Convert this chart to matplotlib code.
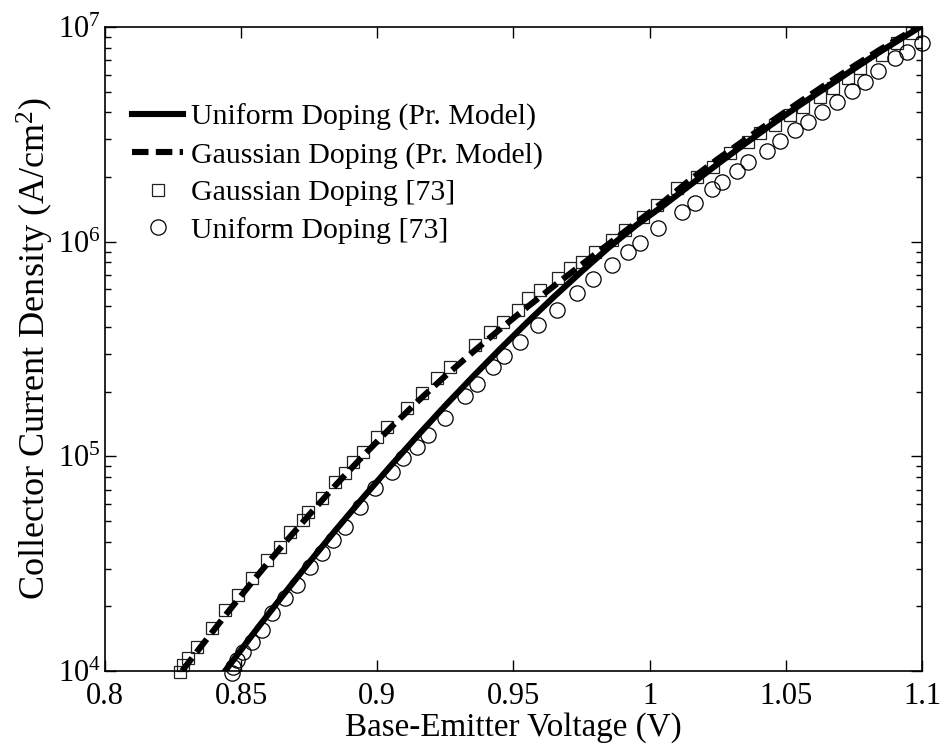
import matplotlib
matplotlib.use("Agg")
import matplotlib.pyplot as plt
import numpy as np
from matplotlib.ticker import LogLocator, NullFormatter, FixedLocator

plt.rcParams['font.family'] = ['Liberation Serif', 'DejaVu Serif']
plt.rcParams['mathtext.fontset'] = 'custom'
plt.rcParams['mathtext.rm'] = 'Liberation Serif'
plt.rcParams['mathtext.it'] = 'Liberation Serif:italic'

# Uniform doping, present model (solid line): V, log10(J)
v_uni_model = [0.8441, 0.855, 0.865, 0.875, 0.885, 0.895, 0.905, 0.915, 0.925, 0.935,
               0.945, 0.955, 0.965, 0.975, 0.985, 0.995, 1.005, 1.015, 1.025, 1.035,
               1.045, 1.055, 1.065, 1.075, 1.085, 1.0993]
logj_uni_model = [4.000, 4.183, 4.347, 4.506, 4.661, 4.811, 4.957, 5.099, 5.237, 5.370,
                  5.499, 5.624, 5.745, 5.861, 5.973, 6.076, 6.168, 6.265, 6.362, 6.456,
                  6.548, 6.635, 6.720, 6.805, 6.888, 7.000]

# Gaussian doping, present model (dashed line)
v_gau_model = [0.8283, 0.835, 0.845, 0.855, 0.865, 0.875, 0.885, 0.895, 0.905, 0.915,
               0.925, 0.935, 0.945, 0.955, 0.965, 0.975, 0.985, 0.995, 1.005, 1.015,
               1.025, 1.035, 1.045, 1.055, 1.065, 1.075, 1.085, 1.0985]
logj_gau_model = [4.000, 4.110, 4.272, 4.430, 4.582, 4.728, 4.870, 5.005, 5.135, 5.258,
                  5.375, 5.485, 5.592, 5.695, 5.795, 5.893, 5.990, 6.088, 6.185, 6.290,
                  6.385, 6.475, 6.563, 6.650, 6.735, 6.818, 6.898, 7.000]

# Gaussian doping, reference [73] (squares)
v_gau_ref = [0.8275, 0.8288, 0.8306, 0.8337, 0.8392, 0.8441, 0.8490, 0.8539, 0.8594, 0.8643,
             0.8679, 0.8728, 0.8747, 0.8796, 0.8845, 0.8881, 0.8912, 0.8949, 0.8998, 0.9035,
             0.9108, 0.9163, 0.9218, 0.9267, 0.9359, 0.9414, 0.9463, 0.9518, 0.9555, 0.9597,
             0.9665, 0.9708, 0.9751, 0.9799, 0.9861, 0.9910, 0.9977, 1.0026, 1.0100, 1.0173,
             1.0234, 1.0295, 1.0362, 1.0405, 1.0461, 1.0516, 1.0564, 1.0626, 1.0675, 1.0730,
             1.0773, 1.0852, 1.0907, 1.0963]
logj_gau_ref = [3.997, 4.028, 4.060, 4.114, 4.199, 4.285, 4.354, 4.432, 4.517, 4.579,
                4.649, 4.704, 4.742, 4.805, 4.882, 4.921, 4.975, 5.022, 5.092, 5.138,
                5.224, 5.294, 5.364, 5.418, 5.519, 5.581, 5.627, 5.682, 5.736, 5.775,
                5.830, 5.876, 5.907, 5.953, 6.008, 6.054, 6.116, 6.171, 6.249, 6.303,
                6.349, 6.412, 6.466, 6.505, 6.544, 6.590, 6.629, 6.675, 6.714, 6.761,
                6.808, 6.870, 6.924, 6.971]

# Uniform doping, reference [73] (circles)
v_uni_ref = [0.8465, 0.8471, 0.8484, 0.8508, 0.8539, 0.8575, 0.8612, 0.8661, 0.8704, 0.8753,
             0.8796, 0.8838, 0.8881, 0.8936, 0.8992, 0.9053, 0.9095, 0.9145, 0.9187, 0.9249,
             0.9322, 0.9365, 0.9426, 0.9465, 0.9524, 0.9591, 0.9659, 0.9732, 0.9793, 0.9861,
             0.9922, 0.9965, 1.0032, 1.0118, 1.0167, 1.0228, 1.0265, 1.0320, 1.0362, 1.0430,
             1.0479, 1.0534, 1.0583, 1.0632, 1.0687, 1.0742, 1.0791, 1.0840, 1.0901, 1.0944,
             1.0999]
logj_uni_ref = [3.993, 4.021, 4.052, 4.090, 4.137, 4.191, 4.269, 4.339, 4.401, 4.486,
                4.549, 4.611, 4.673, 4.766, 4.851, 4.929, 4.991, 5.045, 5.100, 5.177,
                5.281, 5.337, 5.414, 5.468, 5.534, 5.612, 5.682, 5.761, 5.825, 5.891,
                5.953, 5.995, 6.062, 6.140, 6.179, 6.244, 6.279, 6.331, 6.370, 6.424,
                6.469, 6.520, 6.559, 6.605, 6.652, 6.703, 6.745, 6.796, 6.854, 6.885,
                6.927]

xticks = [0.8, 0.85, 0.9, 0.95, 1.0, 1.05, 1.1]
xticklabels = ['0.8', '0.85', '0.9', '0.95', '1', '1.05', '1.1']

fig = plt.figure(figsize=(9.43, 7.51), dpi=100)
ax = fig.add_axes([0.1113, 0.1065, 0.8664, 0.8575])

def tj(l):
    return 10 ** np.asarray(l)

ax.plot(v_uni_model, tj(logj_uni_model), '-', color='black', lw=4.4,
        label='Uniform Doping (Pr. Model)', zorder=3)
ax.plot(v_gau_model, tj(logj_gau_model), '--', color='black', lw=4.4,
        dashes=(2.7, 1.2), label='Gaussian Doping (Pr. Model)', zorder=3)
ax.plot(v_gau_ref, tj(logj_gau_ref), 's', mfc='none', mec='#222222', mew=0.9, ms=9,
        label='Gaussian Doping [73]', clip_on=False, zorder=2)
ax.plot(v_uni_ref, tj(logj_uni_ref), 'o', mfc='none', mec='black', mew=0.9, ms=11,
        label='Uniform Doping [73]', clip_on=False, zorder=2)

ax.set_yscale('log')
ax.set_xlim(0.8, 1.1)
ax.set_ylim(1e4, 1e7)
ax.xaxis.set_major_locator(FixedLocator(xticks))
ax.set_xticklabels(xticklabels)
ax.yaxis.set_major_locator(LogLocator(base=10, numticks=10))
ax.yaxis.set_minor_locator(LogLocator(base=10, subs=np.arange(2, 10), numticks=10))
ax.yaxis.set_minor_formatter(NullFormatter())

ax.tick_params(which='both', direction='in', top=True, right=True, labelsize=22)
ax.tick_params(which='major', length=8, width=1)
ax.tick_params(which='minor', length=4, width=1)
ax.tick_params(axis='x', pad=8)
ax.tick_params(axis='y', pad=3)
for s in ax.spines.values():
    s.set_linewidth(1.2)

ax.set_xlabel('Base-Emitter Voltage (V)', fontsize=23.8, labelpad=1)
ax.set_ylabel('Collector Current Density (A/cm$^2$)', fontsize=26, labelpad=1)

leg = ax.legend(loc='upper left', bbox_to_anchor=(0.008, 0.913), frameon=False,
                fontsize=21.5, handlelength=1.7, handletextpad=0.25, labelspacing=0.35,
                borderaxespad=0.3)

fig.savefig('out.png', dpi=100)
